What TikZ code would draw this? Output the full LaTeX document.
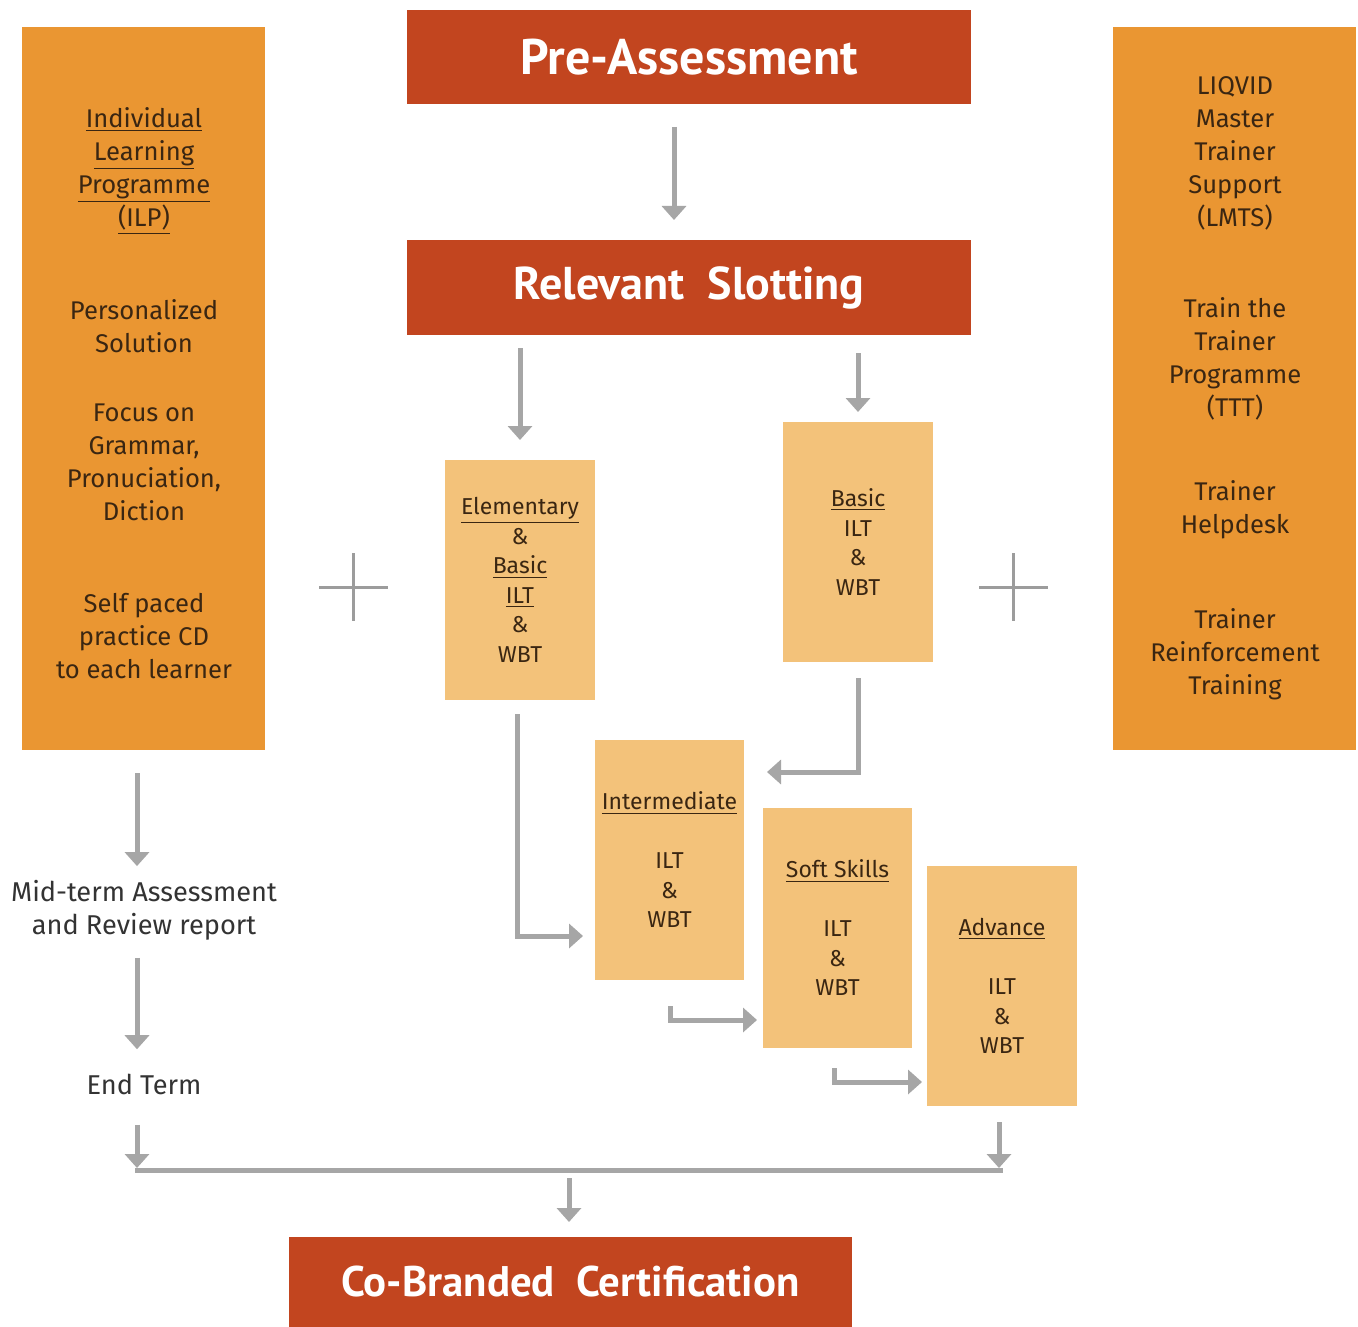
\documentclass[tikz,border=0pt]{standalone}
\usepackage{fontspec}
\setmainfont{Fira Sans}
\newfontfamily\titlefont{PT Sans}
\usetikzlibrary{arrows.meta}
\definecolor{redbox}{HTML}{C2451F}
\definecolor{orangebox}{HTML}{EA9632}
\definecolor{lightbox}{HTML}{F3C27A}
\definecolor{arrowgray}{HTML}{A6A6A6}
\definecolor{plusgray}{HTML}{9C9C9C}
\definecolor{browntext}{HTML}{3A2612}
\definecolor{darktext}{HTML}{333333}
\begin{document}
\begin{tikzpicture}[x=0.5pt,y=-0.5pt,
  titlebox/.style={fill=redbox, text=white, minimum width=282pt, outer sep=0pt, inner sep=0pt,
     font=\titlefont\bfseries\fontsize{23}{26}\selectfont},
  sidebox/.style={fill=orangebox, minimum width=121.5pt, minimum height=361.5pt, outer sep=0pt},
  sidetext/.style={text=browntext, align=center, inner sep=0pt, font=\fontsize{12.8}{16.5}\selectfont},
  levelbox/.style={fill=lightbox, text=browntext, minimum width=75pt, minimum height=120pt, outer sep=0pt,
     inner sep=0pt, align=center, font=\fontsize{11.5}{14.75}\selectfont},
  plaintext/.style={text=darktext, align=center, inner sep=0pt, font=\fontsize{13.6}{16.5}\selectfont},
  conn/.style={draw=arrowgray, line width=2.5pt},
  arr/.style={conn, -{Triangle[length=7pt,width=12pt]}},
  plus/.style={draw=plusgray, line width=1.5pt}]
\useasboundingbox (0,0) rectangle (1358,1326);
\fill[white] (0,0) rectangle (1358,1326);

% side columns
\node[sidebox] (lbox) at (143.5,388.5) {};
\node[sidebox] (rbox) at (1234.5,388.5) {};

\node[sidetext] (ilp) at (144,171) {\underline{Individual}\\\underline{Learning}\\\underline{Programme}\\\underline{(ILP)}};
\node[sidetext] (pers) at (144,326) {Personalized\\Solution};
\node[sidetext] (focus) at (144,462) {Focus on\\Grammar,\\Pronuciation,\\Diction};
\node[sidetext] (self) at (144,636) {Self paced\\practice CD\\to each learner};

\node[sidetext] (lmts) at (1235,153) {LIQVID\\Master\\Trainer\\Support\\(LMTS)};
\node[sidetext] (ttt) at (1235,359) {Train the\\Trainer\\Programme\\(TTT)};
\node[sidetext] (help) at (1235,510) {Trainer\\Helpdesk};
\node[sidetext] (reinf) at (1235,654) {Trainer\\Reinforcement\\Training};

% title boxes
\node[titlebox, minimum height=47pt, font=\titlefont\bfseries\fontsize{25}{28}\selectfont] (pre) at (689,57) {Pre-Assessment};
\node[titlebox, minimum height=47.5pt] (rel) at (689,287.5) {Relevant\ \ Slotting};
\node[titlebox, minimum width=281.5pt, minimum height=45pt, font=\titlefont\bfseries\fontsize{21.4}{24}\selectfont] (cert) at (570.5,1282) {Co-Branded\ \ Certification};

% level boxes
\node[levelbox] (elem) at (520,580) {\underline{Elementary}\\\&\\\underline{Basic}\\\underline{ILT}\\\&\\WBT};
\node[levelbox] (basic) at (858,542) {\underline{Basic}\\ILT\\\&\\WBT};
\node[levelbox, minimum width=74.5pt] (inter) at (669.5,860) {\underline{Intermediate}\\[14.75pt]ILT\\\&\\WBT};
\node[levelbox, minimum width=74.5pt] (soft) at (837.5,928) {\underline{Soft Skills}\\[14.75pt]ILT\\\&\\WBT};
\node[levelbox] (adv) at (1002,986) {\underline{Advance}\\[14.75pt]ILT\\\&\\WBT};

% plus signs
\draw[plus] (319,587) -- (388,587) (353,553) -- (353,621);
\draw[plus] (979,587) -- (1048,587) (1013,553) -- (1013,621);

% left column texts
\node[plaintext] (mid) at (144,910.5) {Mid-term Assessment\\and Review report};
\node[plaintext] (endt) at (144,1084) {End Term};

% coordinates
\coordinate (p0) at (674,104);
\coordinate (b1) at (858,772);
\coordinate (e1) at (517,936);
\coordinate (i0) at (670,980);
\coordinate (i1) at (670,1020);
\coordinate (s0) at (834,1048);
\coordinate (s1) at (834,1082);
\coordinate (jl) at (135,1170);
\coordinate (jr) at (1003,1170);
\coordinate (jc) at (569,1170);
\coordinate (la) at (137,1170);
\coordinate (ra) at (999,1170);

% connectors
\draw[arr, shorten <=11.5pt, shorten >=10pt] (p0) -- (p0 |- rel.north);
\draw[arr, shorten <=6.5pt, shorten >=10pt] (rel.south -| elem.north) -- (elem.north);
\draw[arr, shorten <=9pt, shorten >=5pt] (rel.south -| basic.north) -- (basic.north);
\draw[arr, shorten <=8pt, shorten >=11.5pt] (basic.south) -- (b1) -- (b1 -| inter.east);
\draw[arr, shorten <=7pt, shorten >=6pt] (elem.south -| e1) -- (e1) -- (e1 -| inter.west);
\draw[arr, shorten <=13pt, shorten >=3pt] (i0) -- (i1) -- (i1 -| soft.west);
\draw[arr, shorten <=10pt, shorten >=2.5pt] (s0) -- (s1) -- (s1 -| adv.west);

\draw[arr, shorten <=11.5pt, shorten >=7pt] (lbox.south -| la) -- (mid.north -| la);
\draw[arr, shorten <=8.5pt, shorten >=12pt] (mid.south -| la) -- (endt.north -| la);
\draw[arr, shorten <=15pt, shorten >=1pt] (endt.south -| la) -- (la);
\draw[arr, shorten <=8pt, shorten >=1pt] (adv.south -| ra) -- (ra);
\draw[conn] (jl) -- (jr);
\draw[arr, shorten <=4pt, shorten >=7.5pt] (jc) -- (jc |- cert.north);
\end{tikzpicture}
\end{document}
